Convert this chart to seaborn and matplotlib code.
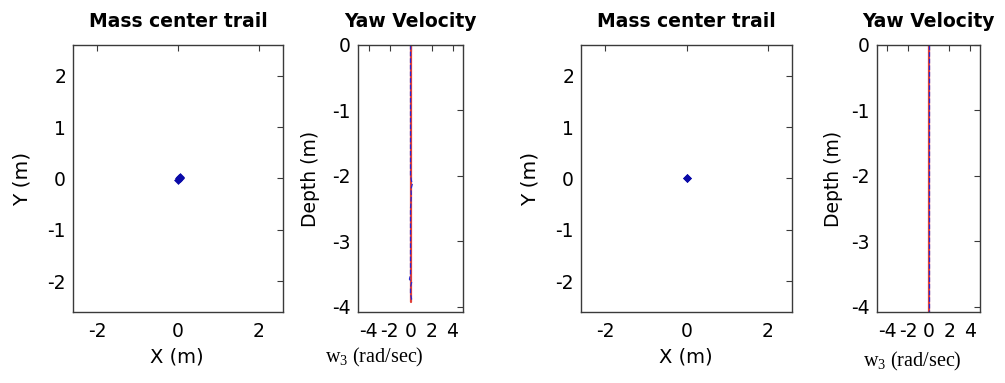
import numpy as np
import pandas as pd
import matplotlib
matplotlib.use("Agg")
import matplotlib.pyplot as plt
import seaborn as sns

# ---------------- data ----------------
trail_left_x = [0.00, 0.02, 0.04, 0.05]
trail_left_y = [-0.02, 0.00, 0.02, 0.01]
trail_right_x = [0.00, 0.01]
trail_right_y = [0.00, 0.00]

depth_left = [0.0, -0.5, -1.0, -1.5, -2.0, -2.08, -2.12, -2.2, -2.3, -2.5, -3.0, -3.5, -3.58, -3.62, -3.7, -3.8, -3.88, -3.92]
yaw_left_meas = [0.0, 0.0, 0.0, 0.0, 0.0, 0.10, 0.18, 0.05, 0.08, 0.0, 0.0, 0.0, -0.10, 0.12, 0.0, 0.0, 0.10, 0.05]
yaw_left_ref = [0.0] * len(depth_left)

depth_right = [0.0, -1.0, -2.0, -3.0, -4.08]
yaw_right_meas = [0.0, 0.0, 0.0, 0.0, 0.0]
yaw_right_ref = [0.0, 0.0, 0.0, 0.0, 0.0]

trail_xticks = [-2, 0, 2]
trail_yticks = [-2, -1, 0, 1, 2]
yaw_xticks = [-4, -2, 0, 2, 4]
yaw_yticks = [-4, -3, -2, -1, 0]

# ---------------- style ----------------
sns.set_style("white")
plt.rcParams["font.family"] = ["DejaVu Sans"]
plt.rcParams["text.color"] = "black"
plt.rcParams["axes.labelcolor"] = "black"
plt.rcParams["axes.titlecolor"] = "black"
plt.rcParams["xtick.color"] = "black"
plt.rcParams["ytick.color"] = "black"
plt.rcParams["axes.unicode_minus"] = False
plt.rcParams["mathtext.fontset"] = "custom"
plt.rcParams["mathtext.rm"] = "Liberation Serif"
plt.rcParams["mathtext.default"] = "rm"

W, H = 1005, 383
fig = plt.figure(figsize=(W / 100, H / 100), dpi=100)

def box(l, r, t=45, b=312):
    return [l / W, 1 - b / H, (r - l) / W, (b - t) / H]

ax1 = fig.add_axes(box(73, 283))
ax2 = fig.add_axes(box(358, 463))
ax3 = fig.add_axes(box(581, 792))
ax4 = fig.add_axes(box(877, 980))

spine_col = "#3a3a3a"
tick_fs = 13.5
title_fs = 13.5

def style(ax):
    for s in ax.spines.values():
        s.set_color(spine_col)
        s.set_linewidth(1.0)
        s.set_visible(True)
    ax.tick_params(direction="in", length=4, width=0.8, color=spine_col,
                   top=True, right=True, labelsize=tick_fs, labelcolor="black")
    ax.tick_params(axis="x", pad=7)
    ax.tick_params(axis="y", pad=5)
    ax.set_facecolor("white")

dot_col = "#0a0aa8"
red_col = "#e0403a"
blue_col = "#2a2ad0"

# trail panels
for ax, tx, ty, ylx in [(ax1, trail_left_x, trail_left_y, -0.243),
                        (ax3, trail_right_x, trail_right_y, -0.242)]:
    sns.scatterplot(x=tx, y=ty, ax=ax, color=dot_col, marker="D", s=16,
                    edgecolor=dot_col, linewidth=0.5, legend=False)
    ax.set_xlim(-2.6, 2.6)
    ax.set_ylim(-2.6, 2.6)
    ax.set_xticks(trail_xticks)
    ax.set_yticks(trail_yticks)
    style(ax)
    ax.set_title("Mass center trail", fontsize=title_fs, fontweight="bold", pad=13)
    ax.set_xlabel("X (m)", fontsize=14)
    ax.set_ylabel("Y (m)", fontsize=14.5)
    ax.xaxis.set_label_coords(0.495, -0.169)
    ax.xaxis.label.set_va("center")
    ax.yaxis.set_label_coords(ylx, 0.5)
    ax.yaxis.label.set_va("center")

# yaw panels
for ax, d, meas, ref, ylx, xlx, xly in [
        (ax2, depth_left, yaw_left_meas, yaw_left_ref, -0.457, 0.16, -0.169),
        (ax4, depth_right, yaw_right_meas, yaw_right_ref, -0.427, 0.34, -0.187)]:
    sns.lineplot(x=ref, y=d, ax=ax, sort=False, estimator=None,
                 color=red_col, linewidth=1.6)
    sns.lineplot(x=meas, y=d, ax=ax, sort=False, estimator=None,
                 color=blue_col, linewidth=0.9, linestyle="--")
    ax.set_xlim(-5, 5)
    ax.set_ylim(-4.08, 0)
    ax.set_xticks(yaw_xticks)
    ax.set_yticks(yaw_yticks)
    style(ax)
    ax.set_title("Yaw Velocity", fontsize=title_fs, fontweight="bold", pad=13)
    ax.set_ylabel("Depth (m)", fontsize=13.5)
    ax.yaxis.set_label_coords(ylx, 0.5)
    ax.yaxis.label.set_va("center")
    ax.set_xlabel("w$_3$ (rad/sec)", fontsize=14.5, family="Liberation Serif")
    ax.xaxis.set_label_coords(xlx, xly)
    ax.xaxis.label.set_va("center")

fig.savefig("out.png", dpi=100, facecolor="white")
